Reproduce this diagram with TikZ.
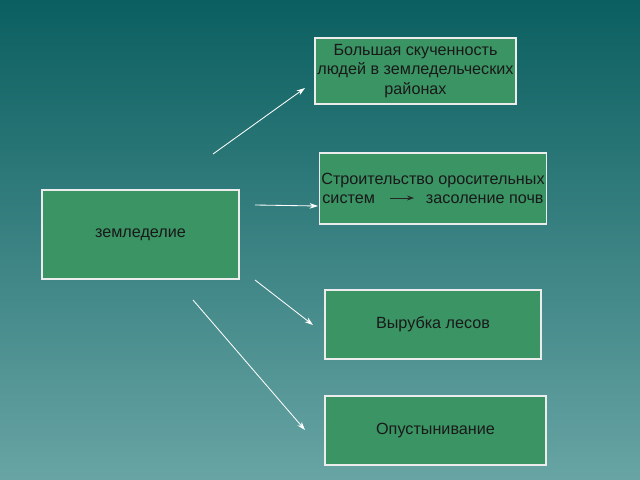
\documentclass[tikz,border=0pt]{standalone}
\usepackage{fontspec}
\setmainfont{Liberation Sans}
\usepackage{tikz}
\usetikzlibrary{positioning,arrows.meta}

\tikzset{
  box/.style={draw=white!85!gray, fill=boxgreen, line width=0.8pt, align=center, inner sep=1pt, font=\fontsize{11.5}{13.8}\selectfont, text=black!90},
  link/.style={white, line width=0.6pt, -{Stealth[length=6pt,width=4pt]}}
}
\definecolor{boxgreen}{HTML}{3A9464}
\definecolor{bgtop}{HTML}{0B5F60}
\definecolor{bgbot}{HTML}{68A4A4}

\begin{document}
\begin{tikzpicture}[x=0.025cm, y=-0.025cm]
    % Background
    \shade[top color=bgtop, bottom color=bgbot] (0,0) rectangle (640,480);
    \useasboundingbox (0,0) rectangle (640,480);

    % Boxes
    \node[box, minimum width=201*0.025cm, minimum height=66*0.025cm] (crowd) at (415.5,71) {Большая скученность\\ людей в земледельческих\\ районах};
    \node[box, minimum width=226*0.025cm, minimum height=71*0.025cm] (irrig) at (433,188.5) {Строительство оросительных\\ систем \hspace{2.6em} засоление почв};
    \node[box, minimum width=197*0.025cm, minimum height=89*0.025cm] (agri) at (140.5,234.5) {земледелие};
    \node[box, minimum width=216*0.025cm, minimum height=69*0.025cm] (forest) at (433,324.5) {Вырубка лесов};
    \node[box, minimum width=221*0.025cm, minimum height=69*0.025cm] (desert) at (435.5,430.5) {Опустынивание};

    % Arrows
    \coordinate (a1) at (213,154); \coordinate (b1) at (305,88);
    \coordinate (a2) at (255,205); \coordinate (b2) at (318,206);
    \coordinate (a3) at (255,280); \coordinate (b3) at (313,325);
    \coordinate (a4) at (193,300); \coordinate (b4) at (305,430);
    \coordinate (c1) at (390,198); \coordinate (c2) at (414,198);
    \foreach \s/\t in {a1/b1, a2/b2, a3/b3, a4/b4}
      \draw[link] (\s) -- (\t);
    \draw[link, black!85, -{Stealth[length=5pt,width=3.5pt]}] (c1) -- (c2);
\end{tikzpicture}
\end{document}
